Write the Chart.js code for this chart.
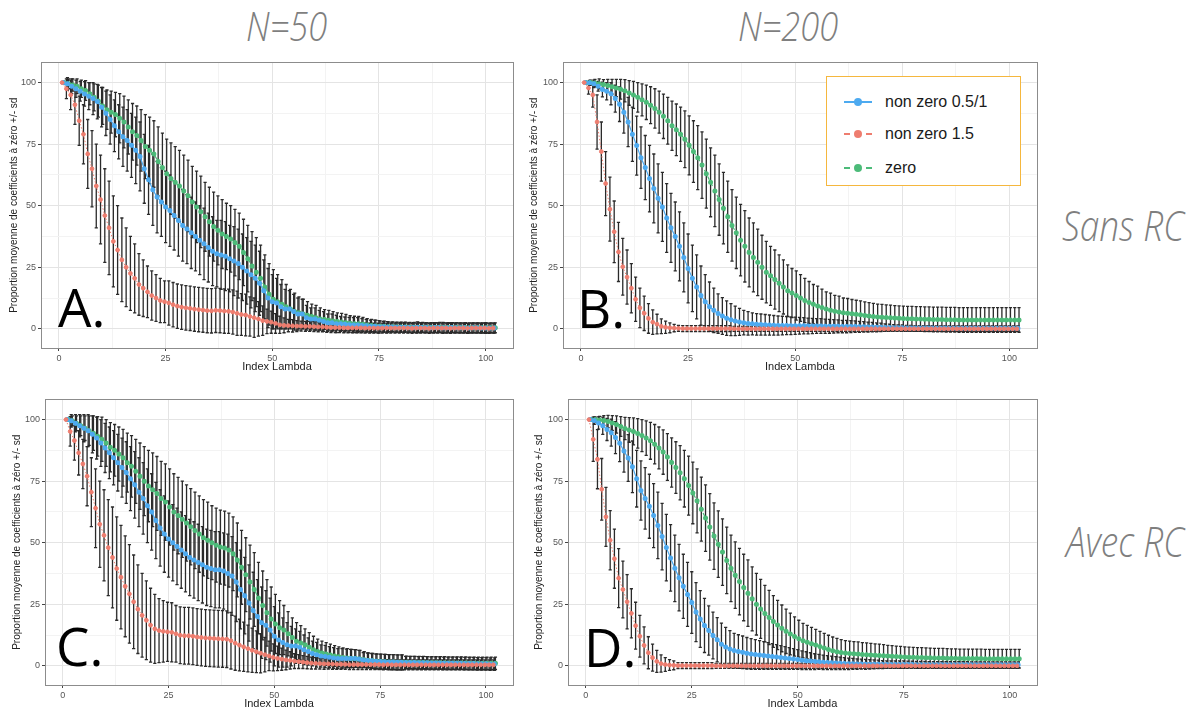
<!DOCTYPE html>
<html>
<head>
<meta charset="utf-8">
<script src="https://cdn.jsdelivr.net/npm/chart.js@4.4.1/dist/chart.umd.min.js"></script>
<style>
  body { margin: 0; width: 1199px; height: 711px; background: #fff; position: relative; overflow: hidden; font-family: "Liberation Sans", Arial, sans-serif; }
  .panel { position: absolute; width: 522px; height: 320px; }
  .gray { position: absolute; color: #7f7f7f; font-style: italic; font-weight: 300; font-family: "Open Sans", "Liberation Sans", sans-serif;
          white-space: nowrap; line-height: 1; transform-origin: 0 0; transform: scaleX(0.84); }
  .tag { position: absolute; font-family: "Open Sans", "Liberation Sans", sans-serif; font-size: 53px; line-height: 53px; color: #000; }
  #legend { position: absolute; left: 826px; top: 76px; width: 193px; height: 108px; border: 1.5px solid #F5B73E; background: #fff; }
  .row { position: absolute; left: 0; height: 20px; width: 190px; }
  .row .ln { position: absolute; left: 17px; top: 9px; width: 28px; height: 0; border-top-width: 2px; }
  .row .dot { position: absolute; left: 27px; top: 6px; width: 8px; height: 8px; border-radius: 50%; }
  .row .lb { position: absolute; left: 58px; top: 0; font-size: 16px; line-height: 20px; color: #1a1a1a; }
</style>
</head>
<body>
<div class="gray" style="left:246px;top:5px;font-size:41px;">N=50</div>
<div class="gray" style="left:738px;top:5px;font-size:41px;">N=200</div>
<div class="gray" style="left:1062px;top:204px;font-size:42px;">Sans RC</div>
<div class="gray" style="left:1066px;top:520px;font-size:42px;">Avec RC</div>

<div class="panel" style="left:0;top:55px"><canvas id="cA" width="522" height="320"></canvas></div>
<div class="panel" style="left:520px;top:55px"><canvas id="cB" width="522" height="320"></canvas></div>
<div class="panel" style="left:0;top:392px"><canvas id="cC" width="522" height="320"></canvas></div>
<div class="panel" style="left:520px;top:392px"><canvas id="cD" width="522" height="320"></canvas></div>

<div class="tag" style="left:58px;top:280px">A.</div>
<div class="tag" style="left:577px;top:281px">B.</div>
<div class="tag" style="left:56px;top:619px">C.</div>
<div class="tag" style="left:584px;top:620px">D.</div>

<div id="legend">
  <div class="row" style="top:15px"><div class="ln" style="border-top-style:solid;border-color:#4DAAF0"></div><div class="dot" style="background:#4DAAF0"></div><div class="lb">non zero 0.5/1</div></div>
  <div class="row" style="top:47px"><div class="ln" style="border-top-style:dashed;border-color:#EE7D6F"></div><div class="dot" style="background:#EE7D6F"></div><div class="lb">non zero 1.5</div></div>
  <div class="row" style="top:81px"><div class="ln" style="border-top-style:dashed;border-color:#4CBB79"></div><div class="dot" style="background:#4CBB79"></div><div class="lb">zero</div></div>
</div>

<script>
// index lambda (x), 1..102
const lambda = [1,2,3,4,5,6,7,8,9,10,11,12,13,14,15,16,17,18,19,20,21,22,23,24,25,26,27,28,29,30,
  31,32,33,34,35,36,37,38,39,40,41,42,43,44,45,46,47,48,49,50,51,52,53,54,55,56,57,58,59,60,
  61,62,63,64,65,66,67,68,69,70,71,72,73,74,75,76,77,78,79,80,81,82,83,84,85,86,87,88,89,90,
  91,92,93,94,95,96,97,98,99,100,101,102];
const xTicks = [0, 12.5, 25, 37.5, 50, 62.5, 75, 87.5, 100];
const yTicks = [0, 12.5, 25, 37.5, 50, 62.5, 75, 87.5, 100];
const seriesNames = ['non zero 1.5', 'non zero 0.5/1', 'zero'];

// A : N=50, sans RC
const aBlue = [100,99.5,98.5,97.5,96.5,95.4,94.5,93.5,92.3,90,87.5,85,82.5,80,78,76.5,74.5,72.5,70,65,
  60.5,56.5,53.5,51.5,49.5,48,46,44,42,40.5,39,37.5,36,34.5,33,31.5,30.5,30,29.5,28.5,
  27.5,26.5,25,23.5,22,20.5,18.5,15.5,12.5,11,10.5,9,8,8,7,6,6,4.5,4,4,
  3.5,3,2.5,2.5,2,2,1.8,1.6,1.5,1.5,1.3,1.2,1,1,0.8,0.8,0.7,0.7,0.6,0.6,
  0.6,0.5,0.5,0.6,0.5,0.5,0.4,0.5,0.5,0.4,0.4,0.5,0.4,0.4,0.4,0.3,0.4,0.4,0.3,0.3,0.3,0.3];
const aBlueSd = [0,2.5,3,3.5,4,5,5.5,6.5,7,8,9,10,10.5,11,12,12.5,13,13.5,14,14,
  14,14.5,14.5,14,14.5,14.5,14,14.5,14.5,14,14.5,14,14,14.5,14,14,13.5,14,14,13.5,
  14,14,13.5,13.5,13.5,13.5,13,12.5,12,11,10,9,8,7.5,7,6.5,6,5,4.5,4.5,
  4,4,3.5,3.5,3.5,3,3,3,3,3,2.8,2.6,2.5,2.5,2.5,2.2,2.2,2,2,2,
  2,2,2,2.2,2,2,2,2,2,2.2,2,2,2,2,2,2,2,2,2,2.2,2,2];
const aRed = [100,97.5,95,91,84.5,79,71,65,58,52.5,46,41,35.5,32,28,25,22.5,20.5,18,16.5,
  15,13.5,12.5,11.5,11,10.5,9.8,9.2,8.8,8.5,8.3,8,7.8,7.6,7.4,7.3,7.5,7.4,7.2,7.1,
  6.8,6.3,5.8,5.6,5,4.5,4,3.3,3,2.7,2.2,1.6,1.4,1.3,1.2,1.1,1.1,1,1,0.9,
  0.8,0.8,0.6,0.5,0.5,0.5,0.4,0.4,0.4,0.4,0.4,0.3,0.3,0.3,0.3,0.3,0.3,0.3,0.3,0.3,
  0.3,0.3,0.2,0.3,0.3,0.3,0.2,0.3,0.3,0.3,0.3,0.2,0.3,0.3,0.3,0.2,0.3,0.3,0.3,0.3,0.2,0.3];
const aRedSd = [0,4,6,8,10,12,14,15.5,17,18,19,19,18.5,18,17,16,15,14,12.5,11.5,
  10.5,10,9.5,9,8.5,9,9,9,9,9,9,9,9,9,9,9,9,9,9,9,
  9,9,8.5,8.5,8,8,7,6,5,4.5,4,3.5,3,2.5,2.5,2.2,2,2,2,2,
  2,2,2,2,2,2,2,2,2,2,2,2,2,2,2,2,2,2,2,2,
  2,2,2,2,2,2,2,2,2,2,2,2,2,2,2,2,2,2,2,2,2,2];
const aGreen = [100,99.5,99,98.5,97.5,96.8,95.5,94,92.5,90.5,89,88,87,85.5,84,82,80,78.5,76.5,74,
  72.5,71,68,65.5,63,61,59.5,58,56,54,51.5,49.5,47.5,45.5,43.5,41.5,40,38.5,37.5,36.5,
  35,33.5,31,28.5,25.5,23,20.5,17,14,12,11,10,9,8,7,6.5,6,5.5,5,4.5,
  4,3.8,3.5,3.2,3,2.8,2.5,2.3,2.1,2,1.8,1.5,1.3,1.1,1,0.9,0.8,0.8,0.7,0.7,
  0.7,0.6,0.6,0.6,0.6,0.5,0.5,0.5,0.6,0.5,0.5,0.5,0.5,0.4,0.5,0.4,0.4,0.4,0.4,0.4,0.4,0.4];
const aGreenSd = [0,2,2.5,3,3.5,4,4.5,5.5,6.5,7.5,8,8.5,9,10,10.5,11,11.5,12,12.5,13,
  13.5,13.5,14,14,14,14.5,14.5,14.5,14.5,14.5,14.5,14.5,14.5,14,14,14,14,14,13.5,13.5,
  13.5,13.5,13.5,13.5,14,14,13.5,13,12.5,12,11,10,9,8,7.5,6.5,6,5.5,5,5,
  4.5,4,4,3.8,3.5,3.5,3.3,3,3,3,2.8,2.6,2.5,2.4,2.2,2.2,2,2,2,2,
  2,2,2,2,2,2,2,2,2,2,2,2,2,2,2,2,2,2,2,2,2,2];

// B : N=200, sans RC
const bBlue = [100,99.9,99.5,98.5,97.2,96.5,95.5,93.5,91.2,88,84,79,74.4,69.5,65.5,61,57,53,49.5,45,
  41,37.5,33.5,29,24.5,20.5,17,13.5,11,9,7.5,6.2,5.2,4.3,3.7,3.2,2.8,2.5,2.2,2,
  1.8,1.7,1.6,1.5,1.4,1.3,1.3,1.3,1.2,1.2,1.2,1.2,1.1,1.1,1.1,1.1,1,1,1,1,
  0.9,0.9,0.9,0.9,0.8,0.8,0.7,0.7,0.6,0.6,0.5,0.5,0.4,0.4,0.4,0.3,0.3,0.3,0.3,0.3,
  0.3,0.3,0.2,0.2,0.3,0.2,0.2,0.2,0.2,0.2,0.2,0.2,0.2,0.2,0.2,0.2,0.2,0.2,0.2,0.2,0.2,0.2];
const bBlueSd = [0,1,1.5,2,3,3.5,4.5,5.5,7,8.5,10,11,12,12.5,13,13.5,14,14,14,14,
  14,14,14,14,14,13.5,13,12,11,10,9,8,7.5,7,6.5,6,5.5,5,4.8,4.5,
  4.4,4.3,4.2,4.1,4,3.9,3.8,3.7,3.6,3.5,3.4,3.3,3.2,3.1,3,3,2.9,2.8,2.7,2.6,
  2.5,2.5,2.4,2.3,2.2,2.1,2,1.9,1.8,1.7,1.5,1.4,1.3,1.2,1.2,1.1,1.1,1,1,1,
  1,1,1,1,1,1,1,1,1,1,1,1,1,1,1,1,1,1,1,1,1,1];
const bRed = [100,97.8,95,84,72,59,48.6,39.4,31.2,25.2,21,16.5,12,8.5,6.3,4.2,2.7,1.9,1,0.6,
  0.4,0.3,0.2,0.1,0.1,0.1,0.1,0.1,0.1,0.1,0.1,0.1,0.1,0.1,0.1,0,0,0,0,0,
  0,0,0,0,0,0,0,0,0,0,0,0,0,0,0,0,0,0,0,0,
  0,0,0,0,0,0,0,0,0,0,0,0,0,0,0,0,0,0,0,0,
  0,0,0,0,0,0,0,0,0,0,0,0,0,0,0,0,0,0,0,0,0,0];
const bRedSd = [0,2.5,5,11,12,13,13,12.5,12,11.5,11,10,9,8,7,6,5,4,3,2.5,
  2,1.5,1.2,1.2,1.2,1.2,1.2,1.2,1.2,1.2,1.2,1.2,1.2,1.2,1.2,1,1,1,1,1,
  1,1,1,1,1,1,1,1,1,1,1,1,1,1,1,1,1,1,1,1,
  1,1,1,1,1,1,1,1,1,1,1,1,1,1,1,1,1,1,1,1,
  1,1,1,1,1,1,1,1,1,1,1,1,1,1,1,1,1,1,1,1,1,1];
const bGreen = [100,100,99.8,99.5,99.2,98.8,98.3,97.8,97.3,96.7,95.8,95,94,93,92,90.8,89.5,88,86.3,84.5,
  82.5,80.8,79,77,74.5,72,69.5,66.5,63,59.5,56,52.5,49,45.5,42,39,36,33.5,31,29,
  27,25,23,21.5,20,18.5,17,15.5,14.5,13.5,12.5,11.5,10.7,10,9.3,8.6,8,7.5,7.1,6.8,
  6.5,6.3,6.1,5.9,5.7,5.4,5.2,5,4.8,4.7,4.6,4.5,4.4,4.3,4.2,4.1,4.1,4,4,3.9,
  3.9,3.8,3.8,3.8,3.7,3.7,3.7,3.6,3.6,3.6,3.6,3.6,3.6,3.6,3.6,3.6,3.6,3.6,3.6,3.6,3.6,3.6];
const bGreenSd = [0,1,1.5,2,2,2.5,3,3.5,4,4.5,5,5.5,6,6.5,7,7.5,8,8.5,9,9.5,
  10,10.5,11,11.5,12,12.5,13,13.5,14,14,14.5,14.5,14.5,14.5,14.5,14.5,14.5,14.5,14,14,
  13.5,13,12.5,12,12,11.5,11,10.5,10,10,9.5,9,8.5,8,8,7.5,7,7,6.5,6.5,
  6,6,5.8,5.7,5.6,5.5,5.4,5.3,5.2,5.2,5.1,5.1,5,5,5,5,5,5,5,5,
  5,5,5,5,5,5,5,5,5,5,5,5,5,5,5,5,5,5,5,5,5,5];

// C : N=50, avec RC
const cBlue = [100,99.5,98.5,97.5,96.5,95.5,94,92.5,90.5,88.5,86.5,84.5,82.5,80.5,78.5,76,73.5,70.5,68,65,
  62.5,59,56,53.5,51.5,50,48.5,47,45.5,44,43,42,41,40,39.5,39,39,38.5,37.5,36.5,
  34,31,28.5,25.5,22.5,20,17.5,16.5,14.5,12,10.5,9.5,8.5,8,8,7.5,6.5,5.8,5,4.5,
  4,3.8,3.5,3.2,3,3,3,3,3,2.8,2.4,2.2,2,1.8,1.7,1.6,1.5,1.5,1.4,1.4,
  1.3,1.3,1.3,1.2,1.2,1.2,1.1,1.1,1.1,1,1,1,1,1,0.9,0.9,0.9,0.8,0.8,0.8,0.7,0.7];
const cBlueSd = [0,2.5,3.5,4.5,5.5,6.5,7.5,8.5,9.5,10,10.5,11,11.5,12,12.5,13,13.5,14,14.5,15,
  15.5,15.5,15.5,15.5,15.5,15.5,15.5,15.5,15.5,15.5,15.5,15.5,15.5,15.5,15.5,15.5,15.5,15.5,16,16,
  16,16,15.5,15.5,15.5,15,14.5,14,13,12,11,10,9,8,7,6.5,6,5.5,5,5,
  4.5,4.5,4.3,4.2,4,4,3.8,3.7,3.6,3.5,3,3,3,3,3,3,3,3,3,3,
  2.5,2.5,2.5,2.5,2.5,2.5,2.5,2.5,2.5,2.5,2.5,2.5,2.5,2.5,2.5,2.5,2.5,2.5,2.5,2.5,2.5,2.5];
const cRed = [100,95.2,91.5,86.5,82,77,70.5,64,57.5,53,48,44,39.5,36,32.3,29.2,26,23,20.5,18.5,
  16.5,15,14.3,14,13.8,13.6,13,12.4,12.2,12.2,12,11.7,11.5,11.3,11.2,11.1,11,10.9,10.8,10.2,
  9.2,8.4,7.7,7,6.3,5.7,5.1,4.5,4,3.4,3,2.7,2.4,2.2,1.9,1.7,1.5,1.3,1.1,1,
  0.9,0.8,0.8,0.7,0.6,0.6,0.6,0.5,0.5,0.5,0.5,0.5,0.5,0.5,0.5,0.4,0.5,0.4,0.4,0.4,
  0.4,0.4,0.4,0.4,0.4,0.4,0.4,0.4,0.4,0.4,0.4,0.4,0.4,0.4,0.4,0.4,0.4,0.4,0.4,0.4,0.4,0.4];
const cRedSd = [0,6,8,9,10,12,14,16,17.5,18.5,19.5,20.5,21,21,20.5,20,19,18,17,16,
  15,14,13,12.5,12,12,11.5,11.5,11.5,11.5,11.5,11.5,11.5,11.5,11.5,11.5,11.5,11.5,11.5,11.5,
  11,10.5,10,9.5,9,8.5,8,7,6,5.5,5,4.5,4,3.5,3,2.8,2.6,2.5,2.4,2.3,
  2.2,2.2,2.1,2.1,2,2,2,2,2,2,2,2,2,2,2,2,2,2,2,2,
  2,2,2,2,2,2,2,2,2,2,2,2,2,2,2,2,2,2,2,2,2,2];
const cGreen = [100,99.5,98.5,97.5,96.5,95.5,94.5,93.2,92,90.5,88.8,87.5,86,84.5,82.5,81,79,77,75,73,
  71.5,70,68,66.5,64.5,62.5,61,59.5,58,56.5,55,53.5,52,51,50,49,48.2,47.8,47,45.5,
  43,40,37,34,31,27.5,24.5,21.5,19,17,15.5,14.5,13,11.5,10,9.3,8.5,7.5,6.5,5.8,
  5.2,4.8,4.4,4,3.7,3.4,3.2,3,3,2.8,2.5,2.2,2,1.8,1.7,1.6,1.5,1.5,1.4,1.4,
  1.4,1.3,1.3,1.3,1.3,1.2,1.2,1.2,1.2,1.2,1.1,1.1,1.1,1.1,1.1,1,1,1,1,1,1,1];
const cGreenSd = [0,2,3,4,5,6,7,8,9,9.5,10,10.5,11,11.5,12,12.5,13,13.5,14,14.5,
  15,15,15,15.5,15.5,15.5,15.5,15.5,15.5,15.5,15.5,15.5,15.5,15.5,15,15,15,15,15,15,
  15,15,15,15,15,14.5,14,13.5,13,12,11,10,9,8,7.5,7,6.5,6,5.5,5,
  4.8,4.6,4.4,4.2,4,3.9,3.8,3.7,3.6,3.5,3.2,3,3,3,3,3,3,3,3,3,
  2.5,2.5,2.5,2.5,2.5,2.5,2.5,2.5,2.5,2.5,2.5,2.5,2.5,2.5,2.5,2.5,2.5,2.5,2.5,2.5,2.5,2.5];

// D : N=200, avec RC
const dBlue = [100,99.6,98.6,97.5,96,94.7,92.7,90.4,87.2,84.4,80.8,76,71.2,68,64.8,61,57,52.5,48,43.8,
  39.6,35.8,32.3,29,25.7,21.8,19,16.4,14.3,12.3,10.6,8.8,7.6,6.8,6.2,5.8,5.5,5.1,4.8,4.6,
  4.4,4.2,4,3.8,3.6,3.4,3.2,3,2.8,2.6,2.3,2.1,1.9,1.7,1.6,1.4,1.3,1.2,1.1,1,
  0.9,0.8,0.8,0.7,0.7,0.6,0.6,0.6,0.6,0.5,0.5,0.5,0.5,0.5,0.5,0.5,0.5,0.4,0.4,0.4,
  0.4,0.4,0.4,0.4,0.4,0.4,0.4,0.4,0.4,0.4,0.4,0.4,0.4,0.4,0.4,0.4,0.4,0.4,0.4,0.4,0.4,0.4];
const dBlueSd = [0,1.5,2.5,3.5,4.5,5.5,6.5,7.5,8.5,9.5,10.5,11.5,12,12.5,13,13,13.5,13.5,13.5,13.5,
  13.5,13.5,13,13,12.5,12,11.5,11,10,9.5,9,8.5,8,7.5,7,6.8,6.6,6.4,6.2,6,
  5.8,5.6,5.4,5.2,5,4.8,4.6,4.4,4.2,4,3.8,3.6,3.4,3.2,3,2.9,2.8,2.7,2.6,2.5,
  2.4,2.3,2.2,2.1,2,2,1.9,1.8,1.7,1.6,1.5,1.5,1.5,1.5,1.5,1.4,1.4,1.4,1.4,1.4,
  1.3,1.3,1.3,1.3,1.3,1.3,1.3,1.3,1.3,1.3,1.2,1.2,1.2,1.2,1.2,1.2,1.2,1.2,1.2,1.2,1.2,1.2];
const dRed = [100,92,83.9,71.7,60.5,51,43.5,35.6,31,26,21.3,16.3,12,8.3,5.3,3.3,1.8,0.9,0.5,0.3,
  0.2,0.1,0.1,0.1,0.1,0.1,0.1,0.1,0.1,0.1,0,0,0,0,0,0,0,0,0,0,
  0,0,0,0,0,0,0,0,0,0,0,0,0,0,0,0,0,0,0,0,
  0,0,0,0,0,0,0,0,0,0,0,0,0,0,0,0,0,0,0,0,
  0,0,0,0,0,0,0,0,0,0,0,0,0,0,0,0,0,0,0,0,0,0];
const dRedSd = [0,9,12,12.5,12,12,12,12,11.5,11,10,9.5,8.5,7.5,6.5,5.5,4.5,3.5,2.8,2.2,
  1.8,1.2,1.2,1.2,1.2,1.2,1.2,1.2,1.2,1.2,1,1,1,1,1,1,1,1,1,1,
  1,1,1,1,1,1,1,1,1,1,1,1,1,1,1,1,1,1,1,1,
  1,1,1,1,1,1,1,1,1,1,1,1,1,1,1,1,1,1,1,1,
  1,1,1,1,1,1,1,1,1,1,1,1,1,1,1,1,1,1,1,1,1,1];
const dGreen = [100,100,99.8,99.6,99.2,98.6,98,97.2,96.4,95.8,95.2,94.4,93.5,92.5,91.4,90,88.5,86.8,84.8,82.6,
  80.5,78.4,76,73.2,70.2,67,63.6,60,56.4,52.7,49.4,46.2,42.8,39.6,36.8,34.2,31.8,29.5,27.2,25,
  23.1,21.2,19.6,18,16.6,15.2,14,12.9,11.9,11,10.2,9.6,9,8.4,7.8,7.2,6.6,6.1,5.7,5.4,
  5.2,5,4.9,4.8,4.6,4.5,4.4,4.3,4.2,4.1,4,3.9,3.8,3.7,3.6,3.5,3.5,3.4,3.4,3.3,
  3.3,3.2,3.2,3.2,3.1,3.1,3.1,3,3,3,3,3,3,2.9,2.9,2.9,2.9,2.9,2.9,2.9,2.9,2.9];
const dGreenSd = [0,1,1.5,2,2.5,3,3.5,4,4.5,5,5.5,6,6.5,7,7.5,8,8.5,9,9.5,10,
  10.5,11,11.5,12,12.5,13,13,13.5,13.5,13.5,13.5,13.5,13.5,13.5,13.5,13.5,13.5,13.5,13,12.5,
  12,11.5,11,10.5,10,9.5,9,8.5,8,7.5,7,6.8,6.6,6.4,6.2,6,5.8,5.6,5.4,5.2,
  5,5,4.9,4.9,4.8,4.8,4.7,4.6,4.6,4.5,4.3,4.3,4.2,4.2,4.1,4.1,4,4,4,4,
  3.9,3.9,3.9,3.9,3.9,3.8,3.8,3.8,3.8,3.8,3.8,3.8,3.8,3.8,3.8,3.8,3.8,3.8,3.8,3.8,3.8,3.8];

const colors = { red: '#EE7D6F', blue: '#4DAAF0', green: '#4CBB79' };

// draws mean +/- sd bars under the lines
const errorBars = {
  id: 'errorBars',
  beforeDatasetsDraw(chart) {
    const ctx = chart.ctx, x = chart.scales.x, y = chart.scales.y;
    ctx.save();
    ctx.strokeStyle = '#2a2a2a';
    ctx.lineWidth = 1.3;
    chart.data.datasets.forEach(ds => {
      ds.data.forEach(p => {
        if (!p.sd) return;
        const px = x.getPixelForValue(p.x);
        const t = y.getPixelForValue(p.y + p.sd), b = y.getPixelForValue(p.y - p.sd);
        ctx.beginPath();
        ctx.moveTo(px, t); ctx.lineTo(px, b);
        ctx.moveTo(px - 1.6, t); ctx.lineTo(px + 1.6, t);
        ctx.moveTo(px - 1.6, b); ctx.lineTo(px + 1.6, b);
        ctx.stroke();
      });
    });
    ctx.restore();
  }
};

const frame = {
  id: 'frame',
  afterDraw(chart) {
    const a = chart.chartArea, ctx = chart.ctx;
    ctx.save();
    ctx.strokeStyle = '#8c8c8c';
    ctx.lineWidth = 1;
    ctx.strokeRect(Math.round(a.left) + 0.5, Math.round(a.top) + 0.5, Math.round(a.right - a.left), Math.round(a.bottom - a.top));
    ctx.restore();
  }
};

function points(vals, sds, shift) {
  return lambda.map((l, i) => ({ x: l + shift, y: vals[i], sd: sds[i] }));
}

function makePanel(id, red, redSd, blue, blueSd, green, greenSd, box) {
  const gridColor = c => (c.tick && c.tick.value % 25 === 0) ? '#e4e4e4' : '#f3f3f3';
  const tickColor = c => (c.tick && c.tick.value % 25 === 0) ? '#444' : 'rgba(0,0,0,0)';
  new Chart(document.getElementById(id), {
    type: 'line',
    data: {
      datasets: [
        { label: seriesNames[0], data: points(red, redSd, -0.25), borderColor: colors.red, backgroundColor: colors.red,
          borderWidth: 1, borderDash: [1.5, 2], pointRadius: 1.9 },
        { label: seriesNames[1], data: points(blue, blueSd, 0), borderColor: colors.blue, backgroundColor: colors.blue,
          borderWidth: 1.2, pointRadius: 1.9 },
        { label: seriesNames[2], data: points(green, greenSd, 0.25), borderColor: colors.green, backgroundColor: colors.green,
          borderWidth: 1.2, borderDash: [4, 3], pointRadius: 1.9 }
      ]
    },
    options: {
      responsive: false,
      animation: false,
      devicePixelRatio: 1,
      layout: { padding: { left: 0, top: box.top, right: box.right, bottom: 0 } },
      elements: { point: { borderWidth: 0 }, line: { tension: 0 } },
      plugins: { legend: { display: false }, tooltip: { enabled: false } },
      scales: {
        x: {
          type: 'linear', min: -4.2, max: 106.4,
          afterBuildTicks: s => { s.ticks = xTicks.map(v => ({ value: v })); },
          afterFit: s => { s.height = 27; },
          border: { display: false },
          grid: { color: gridColor, lineWidth: 1, tickColor: tickColor, tickLength: 3 },
          ticks: { padding: 2, color: '#555', font: { size: 9, family: 'Liberation Sans' },
                   autoSkip: false, maxRotation: 0, callback: v => v % 25 === 0 ? v : '' },
          title: { display: true, text: 'Index Lambda', color: '#222', padding: { top: 0, bottom: 1 },
                   font: { size: 11, family: 'Liberation Sans' } }
        },
        y: {
          type: 'linear', min: -7.8, max: 108.2,
          afterBuildTicks: s => { s.ticks = yTicks.map(v => ({ value: v })); },
          afterFit: s => { s.width = box.yw; },
          border: { display: false },
          grid: { color: gridColor, lineWidth: 1, tickColor: tickColor, tickLength: 3 },
          ticks: { padding: 2, color: '#555', font: { size: 9, family: 'Liberation Sans' },
                   autoSkip: false, callback: v => v % 25 === 0 ? v : '' },
          title: { display: true, text: 'Proportion moyenne de coefficients à zéro +/- sd', color: '#222',
                   padding: { top: box.tp, bottom: 0 }, font: { size: 10, family: 'Liberation Sans' } }
        }
      }
    },
    plugins: [errorBars, frame]
  });
}

makePanel('cA', aRed, aRedSd, aBlue, aBlueSd, aGreen, aGreenSd, { yw: 41, top: 4, right: 9, tp: 8 });
makePanel('cB', bRed, bRedSd, bBlue, bBlueSd, bGreen, bGreenSd, { yw: 43, top: 4, right: 4, tp: 8 });
makePanel('cC', cRed, cRedSd, cBlue, cBlueSd, cGreen, cGreenSd, { yw: 45, top: 7, right: 9, tp: 11 });
makePanel('cD', dRed, dRedSd, dBlue, dBlueSd, dGreen, dGreenSd, { yw: 48, top: 7, right: 5, tp: 13 });
</script>
</body>
</html>
